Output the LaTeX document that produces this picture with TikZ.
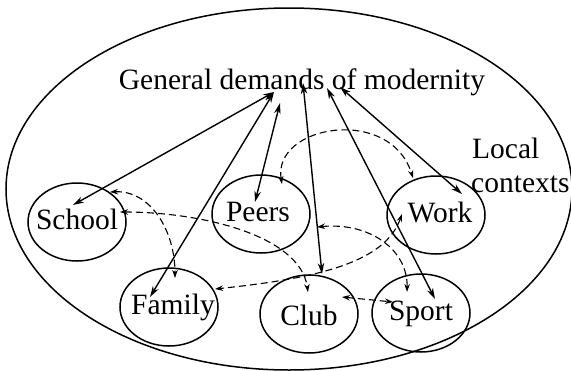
\documentclass[tikz,border=0pt]{standalone}
\usepackage{fontspec}
\setmainfont{Liberation Serif}
\usetikzlibrary{arrows.meta,shapes.geometric}
\begin{document}
\begin{tikzpicture}[x=1pt,y=-1pt,
  every node/.style={font=\fontsize{29.5}{35}\selectfont},
  place/.style={draw, ellipse, line width=1.5pt, inner sep=0pt,
    minimum width=98pt, minimum height=78pt},
  word/.style={inner sep=0pt, text height=20pt, text depth=6pt},
  link/.style={line width=1.4pt,
    {Stealth[length=11pt,width=6.5pt]}-{Stealth[length=11pt,width=6.5pt]}},
  tie/.style={line width=1.1pt, dash pattern=on 7pt off 4pt,
    {Stealth[length=8pt,width=5.5pt]}-{Stealth[length=8pt,width=5.5pt]}}
]
\useasboundingbox (0,0) rectangle (571,370);

% surrounding local contexts
\draw[line width=1.5pt] (289,189) ellipse [x radius=283pt, y radius=181pt];

% labels
\node[anchor=base, inner sep=0pt] (modernity) at (302,89) {General demands of modernity};
\node[anchor=base west, inner sep=0pt] (local) at (472,158) {Local};
\node[anchor=base west, inner sep=0pt] (contexts) at (471,192) {contexts};

% the six settings
\node[place] (school) at (77,222) {};
\node[place] (peers)  at (261,214) {};
\node[place] (work)   at (436,215) {};
\node[place] (family) at (169,307) {};
\node[place] (club)   at (309,314) {};
\node[place] (sport)  at (421,313) {};
\node[word] (schoolT) at (school.center) {School};
\node[word] (peersT)  at ([xshift=-3pt]peers.center)  {Peers};
\node[word] (workT)   at ([xshift=4pt]work.center)   {Work};
\node[word] (familyT) at ([xshift=4pt]family.center) {Family};
\node[word] (clubT)   at ([yshift=-4pt]club.center)   {Club};
\node[word] (sportT)  at (sport.center)  {Sport};

% arrow ends under the heading
\coordinate (mA) at (274,92);
\coordinate (mB) at (280,103);
\coordinate (mC) at (303,83);
\coordinate (mD) at (327,88);
\coordinate (mE) at (340,87);

% arrow ends inside the settings
\coordinate (schoolTop) at (73,205);
\coordinate (familyTop) at (150,297);
\coordinate (peersTop)  at (255,202);
\coordinate (clubTop)   at (322,274);
\coordinate (sportTop)  at (435,299);
\coordinate (workTop)   at (462,194);

% general demands <-> settings
\draw[link] (mA) -- (schoolTop);
\draw[link] (mA) -- (familyTop);
\draw[link] (mB) -- (peersTop);
\draw[link] (mC) -- (clubTop);
\draw[link] (mD) -- (sportTop);
\draw[link] (mE) -- (workTop);

% ends of the links between settings
\coordinate (peersArc)  at (282,184);
\coordinate (workArc)   at (413,178);
\coordinate (schoolArc) at (110,192);
\coordinate (familyArc) at (175,278);
\coordinate (schoolSide) at (120,212);
\coordinate (clubLeft)  at (308,292);
\coordinate (workLow)   at (402,214);
\coordinate (familySide) at (215,289);
\coordinate (peersSide) at (317,227);
\coordinate (sportUp)   at (407,292);
\coordinate (clubSide)  at (342,297);
\coordinate (sportSide) at (393,302);

% links between settings
\draw[tie] (peersArc) .. controls (272,125) and (390,105) .. (workArc);
\draw[tie] (schoolArc) .. controls (150,190) and (175,230) .. (familyArc);
\draw[tie] (schoolSide) .. controls (200,212) and (300,235) .. (clubLeft);
\draw[tie] (workLow) .. controls (385,262) and (320,278) .. (familySide);
\draw[tie] (peersSide) .. controls (370,222) and (408,250) .. (sportUp);
\draw[tie] (clubSide) -- (sportSide);
\end{tikzpicture}
\end{document}
